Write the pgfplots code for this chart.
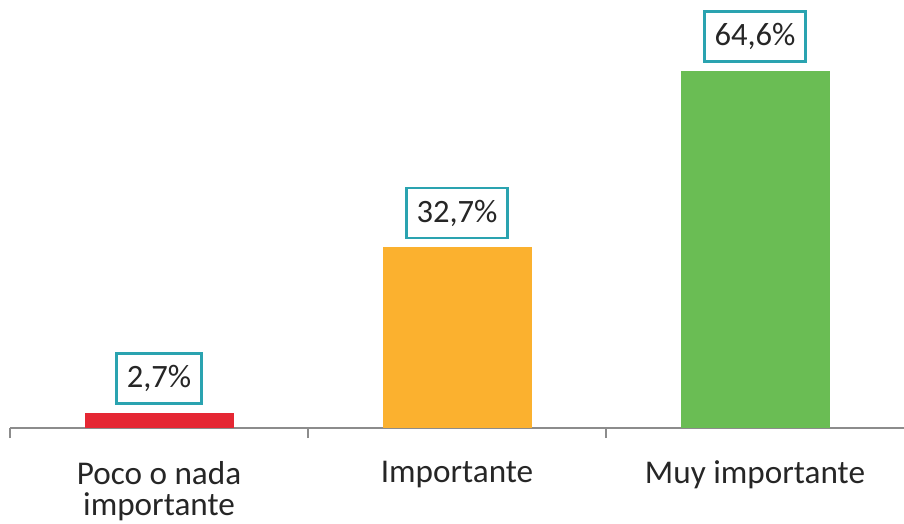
\documentclass[border=0pt]{standalone}
\usepackage{fontspec}
\setmainfont{Carlito}
\usepackage{pgfplots}
\pgfplotsset{compat=1.18}
\definecolor{cred}{HTML}{E52733}
\definecolor{corange}{HTML}{FBB12F}
\definecolor{cgreen}{HTML}{6ABD54}
\definecolor{cteal}{HTML}{2AA3B0}
\definecolor{caxis}{HTML}{8C8C8C}
\begin{document}
\begin{tikzpicture}
\begin{axis}[
  scale only axis,
  width=447pt, height=214pt,
  xmin=-0.5, xmax=2.5,
  ymin=0, ymax=77.44,
  axis x line*=bottom,
  axis y line=none,
  x axis line style={-, draw=caxis, line width=1pt},
  ytick=\empty,
  xtick={0,1,2},
  xticklabels={{Poco o nada\\importante},{Importante},{Muy importante}},
  major tick length=0pt,
  x tick label style={font=\fontsize{16.6}{15.5}\selectfont, align=center, anchor=north, yshift=-13pt, text=black!85},
  extra x ticks={-0.5,0.5,1.5},
  extra x tick labels={},
  extra x tick style={major tick length=5pt, tick align=outside, tick style={draw=caxis, line width=0.8pt}},
  bar width=0.5,
  ybar, bar shift=0pt,
  clip=false,
  point meta=explicit symbolic,
  nodes near coords,
  every node near coord/.append style={anchor=south, yshift=4pt, draw=cteal, line width=1.3pt, fill=white, text=black!85, font=\fontsize{16.3}{19}\selectfont, minimum height=25pt, inner xsep=5pt},
]
\addplot[fill=cred, draw=none] coordinates {(0,2.7) [2,7\%]};
\addplot[fill=corange, draw=none] coordinates {(1,32.7) [32,7\%]};
\addplot[fill=cgreen, draw=none] coordinates {(2,64.6) [64,6\%]};
\coordinate (bl) at (axis cs:-0.5336,-17.37);
\coordinate (tr) at (axis cs:2.5,77.44);
\end{axis}
\pgfresetboundingbox
\path[use as bounding box] (bl) rectangle (tr);
\end{tikzpicture}
\end{document}
